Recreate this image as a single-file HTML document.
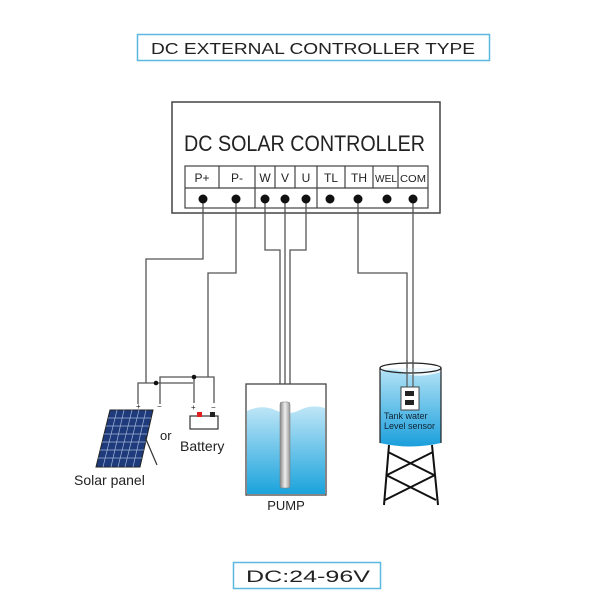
<!DOCTYPE html>
<html><head><style>
body{margin:0;background:#fff}
svg{display:block}
text{font-family:"Liberation Sans",sans-serif;fill:#222}
</style></head><body>
<svg width="612" height="612" viewBox="0 0 612 612">
<defs>
<linearGradient id="w" x1="0" y1="0" x2="0" y2="1"><stop offset="0" stop-color="#bfe6f7"/><stop offset="1" stop-color="#1aa3dc"/></linearGradient>
<linearGradient id="t" x1="0" y1="0" x2="0" y2="1"><stop offset="0" stop-color="#b5e3f6"/><stop offset="1" stop-color="#1a9fdc"/></linearGradient>
<linearGradient id="p" x1="0" y1="0" x2="1" y2="0"><stop offset="0" stop-color="#888"/><stop offset=".5" stop-color="#eee"/><stop offset="1" stop-color="#999"/></linearGradient>
</defs>
<!-- title -->
<rect x="137.5" y="34.5" width="352" height="26" fill="none" stroke="#5bb8e0" stroke-width="1.5"/>
<text x="151" y="54" font-size="16" textLength="324" lengthAdjust="spacingAndGlyphs">DC EXTERNAL CONTROLLER TYPE</text>
<!-- controller -->
<rect x="172" y="102" width="268" height="111" fill="#fff" stroke="#444" stroke-width="1.5"/>
<text x="184" y="151" font-size="22" textLength="241" lengthAdjust="spacingAndGlyphs">DC  SOLAR CONTROLLER</text>
<g stroke="#444" stroke-width="1.2" fill="none">
<rect x="185" y="166" width="243" height="42"/>
<line x1="185" y1="188" x2="428" y2="188"/>
<line x1="219" y1="166" x2="219" y2="188"/>
<line x1="255" y1="166" x2="255" y2="208"/>
<line x1="275" y1="166" x2="275" y2="188"/>
<line x1="295" y1="166" x2="295" y2="188"/>
<line x1="317" y1="166" x2="317" y2="208"/>
<line x1="345" y1="166" x2="345" y2="188"/>
<line x1="373" y1="166" x2="373" y2="188"/>
<line x1="398" y1="166" x2="398" y2="188"/>
</g>
<g font-size="12" text-anchor="middle">
<text x="202" y="182">P+</text><text x="237" y="182">P-</text><text x="265" y="182">W</text><text x="285" y="182">V</text><text x="306" y="182">U</text><text x="331" y="182">TL</text><text x="359" y="182">TH</text>
<text x="386" y="182" font-size="10" textLength="22" lengthAdjust="spacingAndGlyphs">WEL</text><text x="413" y="182" font-size="10" textLength="26" lengthAdjust="spacingAndGlyphs">COM</text>
</g>
<!-- wires -->
<g stroke="#555" stroke-width="1.3" fill="none">
<polyline points="203,199 203,259 146,259 146,383"/>
<polyline points="236,199 236,273 208,273 208,377"/>
<polyline points="265,199 265,250 280,250 280,384"/>
<polyline points="285,199 285,384"/>
<polyline points="306,199 306,250 290,250 290,384"/>
<polyline points="358,199 358,273 407,273 407,390"/>
<polyline points="413,199 413,390"/>
<polyline points="138,404 138,383 156,383"/>
<polyline points="160,404 160,377 214,377 214,403"/>
<polyline points="156,383 193,383"/>
<polyline points="194,377 194,403"/>
</g>
<g fill="#111">
<circle cx="203" cy="199" r="4.5"/><circle cx="236" cy="199" r="4.5"/><circle cx="265" cy="199" r="4.5"/><circle cx="285" cy="199" r="4.5"/><circle cx="306" cy="199" r="4.5"/><circle cx="330" cy="199" r="4.5"/><circle cx="358" cy="199" r="4.5"/><circle cx="387" cy="199" r="4.5"/><circle cx="413" cy="199" r="4.5"/>
</g>
<circle cx="156" cy="383" r="2.3" fill="#111"/><circle cx="194" cy="377" r="2.3" fill="#111"/>
<text x="136" y="409" font-size="8">+</text><text x="157" y="409" font-size="8">−</text>
<text x="191" y="410" font-size="8">+</text><text x="211" y="410" font-size="8">−</text>
<!-- solar panel -->
<polygon points="110,410 153,410 140,467 96,467" fill="#1f3a7a" stroke="#222"/>
<g stroke="#9fb4d8" stroke-width="0.7">
<line x1="117" y1="410" x2="103" y2="467"/><line x1="124" y1="410" x2="111" y2="467"/><line x1="132" y1="410" x2="118" y2="467"/><line x1="139" y1="410" x2="125" y2="467"/><line x1="146" y1="410" x2="133" y2="467"/>
<line x1="108" y1="418" x2="151" y2="418"/><line x1="106" y1="426" x2="149" y2="426"/><line x1="104" y1="434" x2="147" y2="434"/><line x1="102" y1="442" x2="146" y2="442"/><line x1="100" y1="450" x2="144" y2="450"/><line x1="98" y1="458" x2="142" y2="458"/>
</g>
<line x1="145" y1="437" x2="157" y2="465" stroke="#333" stroke-width="1.2"/>
<text x="74" y="485" font-size="14">Solar panel</text>
<text x="160" y="440" font-size="13">or</text>
<rect x="190" y="416" width="28" height="13" fill="#fff" stroke="#333" stroke-width="1.2"/>
<rect x="197" y="412" width="5" height="5" fill="#e02020"/><rect x="210" y="412" width="5" height="5" fill="#222"/>
<text x="180" y="451" font-size="14">Battery</text>
<!-- pump -->
<rect x="246" y="384" width="80" height="111" fill="#fff" stroke="#444" stroke-width="1.3"/>
<path d="M247,411 Q262,404 275,410 T300,410 T325,408 L325,494 L247,494Z" fill="url(#w)"/>
<rect x="280" y="402" width="10" height="86" rx="2" fill="url(#p)" stroke="#777" stroke-width="0.5"/>
<text x="286" y="510" font-size="13" text-anchor="middle">PUMP</text>
<!-- tank -->
<g stroke="#111" stroke-width="2" fill="none">
<line x1="389" y1="445" x2="384" y2="505"/><line x1="432" y1="445" x2="438" y2="505"/>
<line x1="388" y1="452" x2="434" y2="475"/><line x1="433" y1="452" x2="387" y2="475"/>
<line x1="386" y1="475" x2="436" y2="500"/><line x1="435" y1="475" x2="385" y2="500"/>
</g>
<path d="M380,368 L441,368 L441,443 Q410,450 380,443Z" fill="url(#t)"/>
<path d="M380,372 Q392,367 405,373 T441,372 L441,368 L380,368Z" fill="#eef8fd"/>
<ellipse cx="410.5" cy="368" rx="30.5" ry="5" fill="none" stroke="#222" stroke-width="1.3"/>
<line x1="380" y1="368" x2="380" y2="443" stroke="#222" stroke-width="1.2"/>
<line x1="441" y1="368" x2="441" y2="443" stroke="#222" stroke-width="1.2"/>
<line x1="407" y1="360" x2="407" y2="388" stroke="#555" stroke-width="1.2"/>
<line x1="413" y1="360" x2="413" y2="388" stroke="#555" stroke-width="1.2"/>
<rect x="401" y="387" width="18" height="23" fill="#fff" stroke="#444"/>
<rect x="405" y="391" width="9" height="5" fill="#222"/><rect x="405" y="400" width="9" height="5" fill="#222"/>
<text x="384" y="419" font-size="9" style="fill:#123">Tank water</text>
<text x="384" y="429" font-size="9" style="fill:#123">Level sensor</text>
<!-- bottom -->
<rect x="233.5" y="562.5" width="147" height="26" fill="none" stroke="#5bb8e0" stroke-width="1.5"/>
<text x="246" y="582" font-size="17" textLength="124" lengthAdjust="spacingAndGlyphs">DC:24-96V</text>
</svg>
</body></html>
